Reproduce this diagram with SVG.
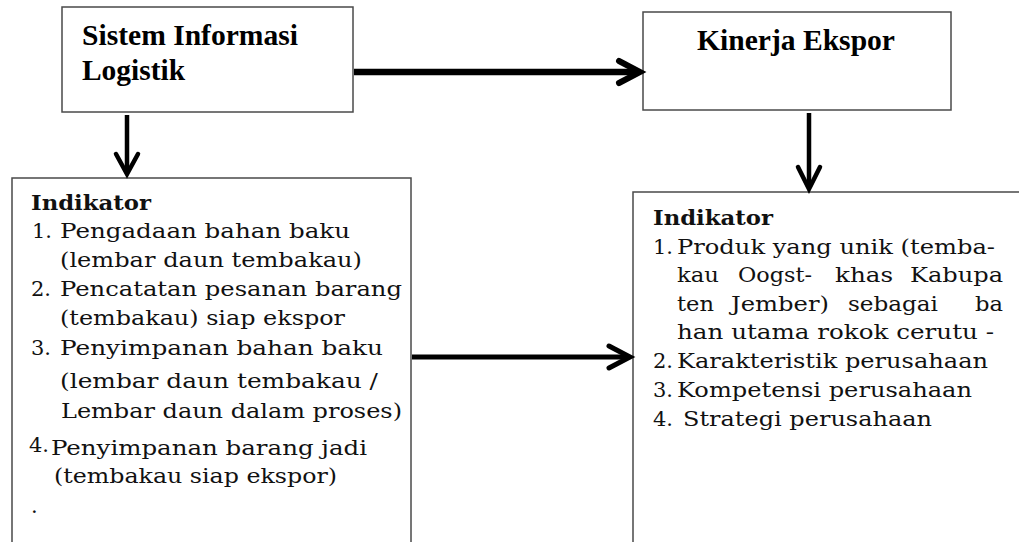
<svg xmlns="http://www.w3.org/2000/svg" width="1019" height="542" viewBox="0 0 1019 542">
<style>
  .box { fill: #ffffff; stroke: #4a4a4a; stroke-width: 1.5; }
  .title { font-family: "Liberation Serif", "Times New Roman", serif; font-weight: bold; font-size: 29px; fill: #000; }
  .body { font-family: "DejaVu Serif", "Liberation Serif", serif; font-size: 21px; fill: #111; }
  .bold { font-weight: bold; }
  .line { stroke: #000; fill: none; stroke-linecap: butt; }
  .head { stroke: #000; fill: none; stroke-linecap: round; stroke-linejoin: miter; }
</style>
<rect width="1019" height="542" fill="#ffffff"/>

<g id="node-sil">
  <rect class="box" x="62" y="7" width="291" height="105"/>
  <text class="title" x="82" y="45" textLength="216" lengthAdjust="spacingAndGlyphs">Sistem Informasi</text>
  <text class="title" x="82" y="80" textLength="103" lengthAdjust="spacingAndGlyphs">Logistik</text>
</g>

<g id="node-ke">
  <rect class="box" x="643" y="12" width="308" height="98"/>
  <text class="title" x="697" y="50" textLength="198" lengthAdjust="spacingAndGlyphs">Kinerja Ekspor</text>
</g>

<g id="node-ind-sil">
  <rect class="box" x="12" y="178" width="399" height="400"/>
  <text class="body bold" x="31" y="210" textLength="120" lengthAdjust="spacingAndGlyphs">Indikator</text>
  <text class="body" x="32" y="238">1.</text>
  <text class="body" x="60" y="238" textLength="290" lengthAdjust="spacingAndGlyphs">Pengadaan bahan baku</text>
  <text class="body" x="60" y="267" textLength="302" lengthAdjust="spacingAndGlyphs">(lembar daun tembakau)</text>
  <text class="body" x="31" y="296">2.</text>
  <text class="body" x="60" y="296" textLength="342" lengthAdjust="spacingAndGlyphs">Pencatatan pesanan barang</text>
  <text class="body" x="60" y="325" textLength="285" lengthAdjust="spacingAndGlyphs">(tembakau) siap ekspor</text>
  <text class="body" x="31" y="355">3.</text>
  <text class="body" x="60" y="355" textLength="323" lengthAdjust="spacingAndGlyphs">Penyimpanan bahan baku</text>
  <text class="body" x="60" y="388" textLength="318" lengthAdjust="spacingAndGlyphs">(lembar daun tembakau /</text>
  <text class="body" x="61" y="418" textLength="341" lengthAdjust="spacingAndGlyphs">Lembar daun dalam proses)</text>
  <text class="body" x="29" y="452" font-size="18">4.</text>
  <text class="body" x="51" y="455" textLength="316" lengthAdjust="spacingAndGlyphs">Penyimpanan barang jadi</text>
  <text class="body" x="54" y="483" textLength="283" lengthAdjust="spacingAndGlyphs">(tembakau siap ekspor)</text>
  <text class="body" x="31" y="513">.</text>
</g>

<g id="node-ind-ke">
  <rect class="box" x="633" y="192" width="420" height="400"/>
  <text class="body bold" x="653" y="225" textLength="120" lengthAdjust="spacingAndGlyphs">Indikator</text>
  <text class="body" x="653" y="254">1.</text>
  <text class="body" x="677" y="254" textLength="318" lengthAdjust="spacingAndGlyphs">Produk yang unik (temba-</text>
  <text class="body" x="677" y="282" textLength="42" lengthAdjust="spacingAndGlyphs">kau</text>
  <text class="body" x="738" y="282" textLength="74" lengthAdjust="spacingAndGlyphs">Oogst-</text>
  <text class="body" x="835" y="282" textLength="58" lengthAdjust="spacingAndGlyphs">khas</text>
  <text class="body" x="910" y="282" textLength="93" lengthAdjust="spacingAndGlyphs">Kabupa</text>
  <text class="body" x="677" y="311" textLength="37" lengthAdjust="spacingAndGlyphs">ten</text>
  <text class="body" x="731" y="311" textLength="98" lengthAdjust="spacingAndGlyphs">Jember)</text>
  <text class="body" x="848" y="311" textLength="90" lengthAdjust="spacingAndGlyphs">sebagai</text>
  <text class="body" x="975" y="311" textLength="28" lengthAdjust="spacingAndGlyphs">ba</text>
  <text class="body" x="677" y="339" textLength="317" lengthAdjust="spacingAndGlyphs">han utama rokok cerutu -</text>
  <text class="body" x="653" y="368">2.</text>
  <text class="body" x="677" y="368" textLength="311" lengthAdjust="spacingAndGlyphs">Karakteristik perusahaan</text>
  <text class="body" x="653" y="397">3.</text>
  <text class="body" x="677" y="397" textLength="295" lengthAdjust="spacingAndGlyphs">Kompetensi perusahaan</text>
  <text class="body" x="653" y="426">4.</text>
  <text class="body" x="683" y="426" textLength="249" lengthAdjust="spacingAndGlyphs">Strategi perusahaan</text>
</g>

<g id="connectors">
  <line class="line" x1="354" y1="72" x2="638" y2="72" stroke-width="6.5"/>
  <polyline class="head" points="619,61 640,72 619,83" stroke-width="6"/>

  <line class="line" x1="127" y1="115" x2="127" y2="173" stroke-width="4.5"/>
  <polyline class="head" points="116,154 127,174 138,154" stroke-width="4.5"/>

  <line class="line" x1="809" y1="113" x2="809" y2="188" stroke-width="4.5"/>
  <polyline class="head" points="798,167 809,189 820,167" stroke-width="4.5"/>

  <line class="line" x1="412" y1="357" x2="628" y2="357" stroke-width="5"/>
  <polyline class="head" points="609,346 630,357 609,368" stroke-width="5"/>
</g>
</svg>
